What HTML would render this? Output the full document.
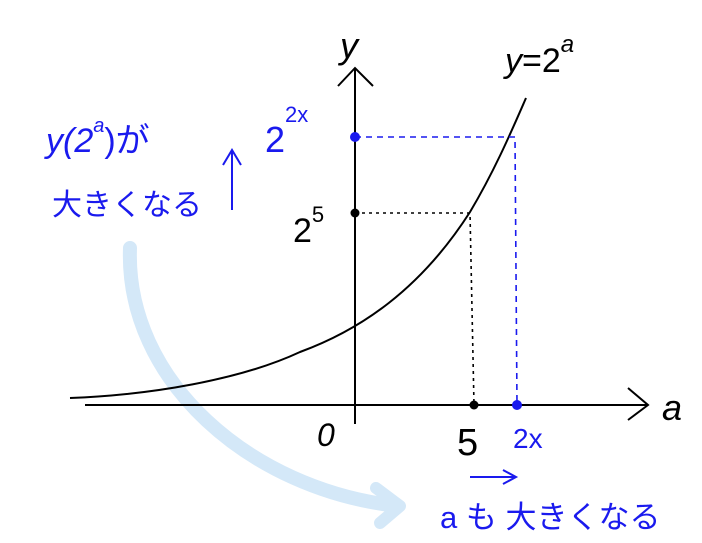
<!DOCTYPE html>
<html><head><meta charset="utf-8"><style>
html,body{margin:0;padding:0;background:#fff;}
svg{display:block;}
text{font-family:"Liberation Sans","Noto Sans CJK JP",sans-serif;}
</style></head><body>
<svg width="702" height="543" viewBox="0 0 702 543" xmlns="http://www.w3.org/2000/svg">
<rect width="702" height="543" fill="#fff"/>
<!-- light blue curved arrow -->
<path d="M130 248 C 125 380, 250 490, 398 506" fill="none" stroke="#d4e8f8" stroke-width="14" stroke-linecap="round"/>
<path d="M376 488 L400 506 L380 523" fill="none" stroke="#d4e8f8" stroke-width="12" stroke-linecap="round" stroke-linejoin="round"/>
<!-- axes -->
<line x1="85" y1="405" x2="648" y2="405" stroke="#000" stroke-width="2"/>
<path d="M628 388 L648 405 L628 420" fill="none" stroke="#000" stroke-width="2"/>
<line x1="355" y1="68" x2="355" y2="424" stroke="#000" stroke-width="2"/>
<path d="M338 86 L355 68 L373 86" fill="none" stroke="#000" stroke-width="2"/>
<!-- curve -->
<path d="M70 398 C 150 395, 240 380, 300 352 C 360 330, 420 290, 470 212 C 495 170, 512 130, 526 98" fill="none" stroke="#000" stroke-width="2"/>
<!-- dashed lines -->
<path d="M355 137 L515 137 L517 405" fill="none" stroke="#1a1aee" stroke-width="1.6" stroke-dasharray="6,5"/>
<path d="M355 213 L470 213 L474 405" fill="none" stroke="#000" stroke-width="1.6" stroke-dasharray="3,4"/>
<circle cx="355" cy="137" r="5" fill="#1a1aee"/>
<circle cx="517" cy="405" r="5" fill="#1a1aee"/>
<circle cx="355" cy="213" r="4.5" fill="#000"/>
<circle cx="474" cy="405" r="4.5" fill="#000"/>
<!-- labels black -->
<text x="340" y="58" font-size="36" font-style="italic">y</text>
<text x="662" y="420" font-size="36" font-style="italic">a</text>
<text x="317" y="446" font-size="32" font-style="italic">0</text>
<text x="457" y="455" font-size="38">5</text>
<text x="293" y="242" font-size="34">2<tspan dy="-20" font-size="22">5</tspan></text>
<text x="505" y="72" font-size="34" font-style="italic">y<tspan font-style="normal">=2</tspan><tspan dy="-20" font-size="24">a</tspan></text>
<!-- blue labels -->
<g fill="#1a1aee">
<text x="265" y="152" font-size="36">2<tspan dy="-30" font-size="22">2x</tspan></text>
<text x="513" y="448" font-size="28">2x</text>
<text x="46" y="152" font-size="34" font-style="italic">y(2<tspan dy="-20" font-size="20">a</tspan><tspan dy="20" font-style="normal">)が</tspan></text>
<text x="52" y="215" font-size="30">大きくなる</text>
<text x="440" y="528" font-size="31">a も 大きくなる</text>
</g>
<line x1="232" y1="210" x2="232" y2="152" stroke="#1a1aee" stroke-width="2"/>
<path d="M223 165 L232 150 L241 165" fill="none" stroke="#1a1aee" stroke-width="2"/>
<line x1="470" y1="477" x2="515" y2="477" stroke="#1a1aee" stroke-width="2"/>
<path d="M503 470 L516 477 L503 484" fill="none" stroke="#1a1aee" stroke-width="2"/>
</svg>
</body></html>
